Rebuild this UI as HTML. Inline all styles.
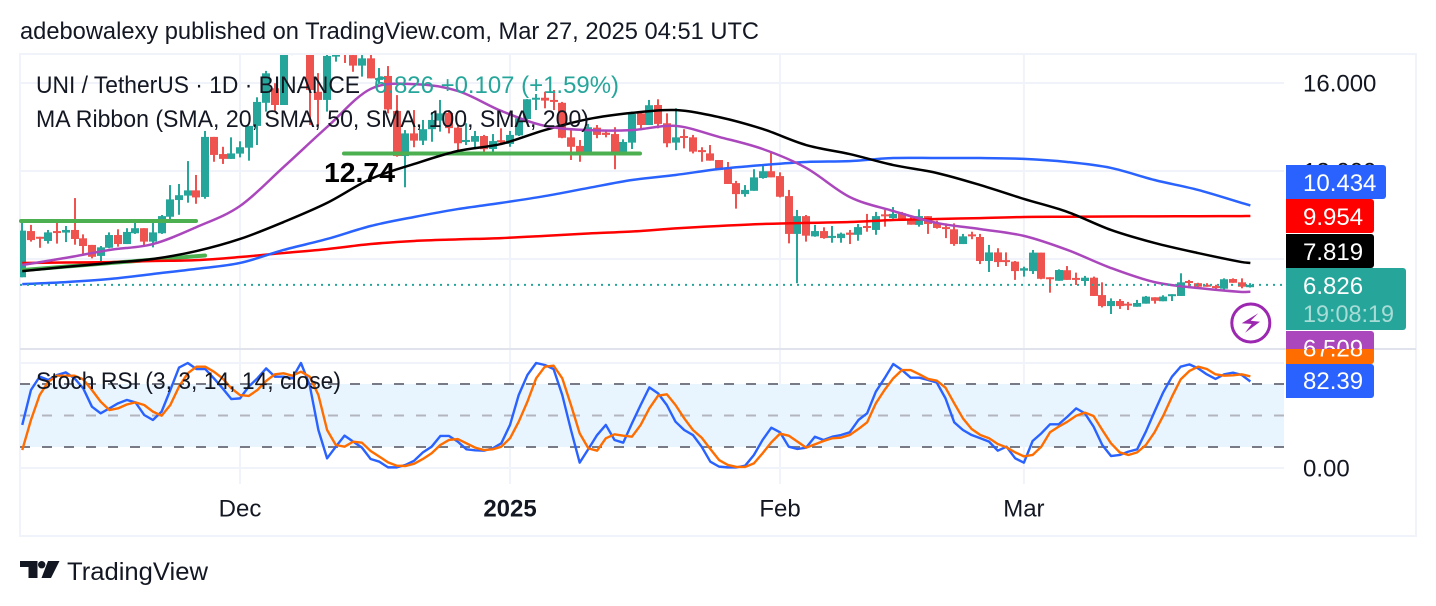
<!DOCTYPE html>
<html lang="en">
<head>
<meta charset="utf-8">
<title>UNI / TetherUS chart</title>
<style>
  html, body { margin: 0; padding: 0; background: #ffffff; width: 1436px; height: 606px; overflow: hidden; }
  svg { display: block; font-family: "Liberation Sans", Arial, sans-serif; }
</style>
</head>
<body>
<svg id="chart" xmlns="http://www.w3.org/2000/svg" width="1436" height="606" viewBox="0 0 1436 606">
  <defs>
    <clipPath id="price-clip"><rect x="20" y="55" width="1264" height="294"></rect></clipPath>
    <clipPath id="stoch-clip"><rect x="20" y="350" width="1264" height="134"></rect></clipPath>
    <clipPath id="label-top-clip"><rect x="1280" y="320" width="120" height="29"></rect></clipPath>
    <clipPath id="label-bottom-clip"><rect x="1280" y="349" width="120" height="30"></rect></clipPath>
  </defs>
  <rect x="0" y="0" width="1436" height="606" fill="#ffffff"></rect>
  <text x="20" y="39" font-size="24" fill="#131722" textLength="739" lengthAdjust="spacingAndGlyphs">adebowalexy published on TradingView.com, Mar 27, 2025 04:51 UTC</text>
  <rect x="20" y="54" width="1396" height="482" fill="none" stroke="#f0f3fa" stroke-width="2"></rect>
  <g id="grid"></g>
  <rect x="20" y="384" width="1264" height="63" fill="#e9f5fe"></rect>
  <g id="stoch-levels"></g>
  <g id="candles" clip-path="url(#price-clip)"></g>
  <line x1="21" y1="221" x2="196" y2="221" stroke="#4caf50" stroke-width="4" stroke-linecap="round"></line>
  <line x1="23" y1="270" x2="205" y2="255.5" stroke="#4caf50" stroke-width="4" stroke-linecap="round"></line>
  <line x1="344" y1="153.5" x2="640" y2="153.5" stroke="#4caf50" stroke-width="4" stroke-linecap="round"></line>
  <g id="ma-lines" clip-path="url(#price-clip)"></g>
  <line id="last-price-line" x1="20" x2="1284" stroke="#26a69a" stroke-width="2" stroke-dasharray="2 5"></line>
  <g id="stoch-lines" clip-path="url(#stoch-clip)"></g>
  <rect x="20" y="348" width="1396" height="2" fill="#e0e3eb"></rect>

  <text x="36" y="93" font-size="24" fill="#131722" textLength="324" lengthAdjust="spacingAndGlyphs">UNI / TetherUS · 1D · BINANCE</text>
  <text x="374" y="93" font-size="24" fill="#26a69a" textLength="245" lengthAdjust="spacingAndGlyphs">6.826 +0.107 (+1.59%)</text>
  <text x="36" y="127" font-size="24" fill="#131722" textLength="553" lengthAdjust="spacingAndGlyphs">MA Ribbon (SMA, 20, SMA, 50, SMA, 100, SMA, 200)</text>
  <text x="36" y="389" font-size="24" fill="#131722" textLength="305" lengthAdjust="spacingAndGlyphs">Stoch RSI (3, 3, 14, 14, close)</text>
  <text x="324" y="182" font-size="28" font-weight="700" fill="#000000" textLength="71" lengthAdjust="spacingAndGlyphs">12.74</text>

  <g>
    <circle cx="1250.8" cy="323" r="19" fill="#ffffff" stroke="#9c27b0" stroke-width="3"></circle>
    <polygon points="1258.3,313.3 1241.7,323.3 1251.7,324 1245,332.7 1260,321.7 1250.7,320.7" fill="#9c27b0"></polygon>
  </g>

  <g id="y-axis"></g>
  <g id="x-axis"></g>

  <g font-size="24">
    <path d="M1286 349h88v12a3 3 0 0 1 -3 3h-85z" fill="#ff6d00"></path>
    <text x="1303" y="356.5" fill="#ffffff" clip-path="url(#label-bottom-clip)">87.28</text>
    <path d="M1286 331h85a3 3 0 0 1 3 3v15h-88z" fill="#ab47bc"></path>
    <text x="1303" y="356.5" fill="#ffffff" clip-path="url(#label-top-clip)">6.509</text>
    <path d="M1286 364h85a3 3 0 0 1 3 3v28a3 3 0 0 1 -3 3h-85z" fill="#2962ff"></path>
    <text x="1303" y="389" fill="#ffffff">82.39</text>
    <path d="M1286 165h97a3 3 0 0 1 3 3v28a3 3 0 0 1 -3 3h-97z" fill="#2962ff"></path>
    <text x="1303" y="191" fill="#ffffff">10.434</text>
    <path d="M1286 199h85a3 3 0 0 1 3 3v28a3 3 0 0 1 -3 3h-85z" fill="#ff0000"></path>
    <text x="1303" y="225" fill="#ffffff">9.954</text>
    <path d="M1286 234h85a3 3 0 0 1 3 3v28a3 3 0 0 1 -3 3h-85z" fill="#000000"></path>
    <text x="1303" y="260" fill="#ffffff">7.819</text>
    <path d="M1286 268h117a3 3 0 0 1 3 3v56a3 3 0 0 1 -3 3h-117z" fill="#26a69a"></path>
    <text x="1303" y="294" fill="#ffffff">6.826</text>
    <text x="1303" y="322" fill="#a8dcd7" textLength="91" lengthAdjust="spacingAndGlyphs">19:08:19</text>
  </g>

  <g>
    <path d="M20 561h17.5v17h-9v-11h-8.500z" fill="#131722"></path>
    <circle cx="41.700" cy="564.700" r="3.700" fill="#131722"></circle>
    <path d="M48 561h11.500l-8.500 17h-9.500z" fill="#131722"></path>
    <text x="67" y="580" font-size="25" fill="#131722" textLength="141" lengthAdjust="spacingAndGlyphs">TradingView</text>
  </g>
</svg>

<script>
const opens = [7.17,9.27,9.01,8.82,9.27,9.20,9.32,8.94,8.64,8.14,8.51,9.09,8.68,9.17,9.40,8.79,9.17,9.92,10.68,10.88,11.12,10.82,13.55,12.77,12.55,12.79,13.06,14.05,15.10,15.76,15.00,17.50,18.20,17.50,15.60,15.23,17.20,17.41,17.27,16.79,17.12,16.14,16.32,14.73,12.68,13.71,13.38,13.90,14.29,14.64,13.97,13.32,13.33,13.59,13.00,13.40,13.23,13.62,14.36,15.26,15.33,15.23,15.10,13.53,13.14,12.88,13.97,13.74,13.68,12.88,13.29,14.62,14.09,15.00,14.17,13.29,13.59,13.53,12.95,12.80,12.50,12.09,11.45,10.95,11.10,11.68,11.99,11.77,10.86,9.14,9.95,9.03,9.27,8.97,8.95,9.20,9.10,9.50,9.32,10.03,9.86,10.08,9.80,9.55,9.95,9.65,9.45,9.35,8.68,9.12,9.00,7.91,8.30,7.95,7.88,7.47,7.45,8.29,7.17,7.01,7.49,7.14,7.00,7.15,6.36,5.86,6.09,5.97,5.83,5.97,6.26,6.08,6.33,6.32,7.00,6.90,6.83,6.77,6.65,7.09,6.94,6.719];
const highs = [9.70,9.55,9.01,9.32,9.64,9.50,10.77,9.12,8.64,8.59,9.21,9.35,9.40,9.65,9.40,9.70,10.00,11.36,11.41,12.45,11.82,13.82,13.55,13.10,13.53,13.35,14.05,15.35,16.55,15.99,17.60,17.90,18.60,17.70,16.45,17.40,17.60,17.60,17.50,17.27,17.32,16.68,16.77,15.45,13.86,14.77,14.32,14.68,15.23,14.77,14.09,14.17,13.82,13.64,13.68,13.94,13.82,14.41,15.27,15.50,15.60,15.68,15.14,13.90,13.41,14.14,14.09,13.86,13.99,13.44,14.70,14.70,15.23,15.26,14.62,14.85,13.90,13.64,13.08,13.18,12.50,12.41,11.55,11.36,12.08,12.27,12.88,11.94,11.14,10.23,10.00,9.55,9.44,9.50,9.20,9.32,9.59,10.05,10.14,10.23,10.36,10.14,9.92,10.26,9.95,9.74,9.62,9.62,9.14,9.24,9.14,8.64,8.49,8.30,7.91,7.65,8.41,8.29,7.17,7.53,7.68,7.38,7.23,7.20,6.94,6.21,6.18,6.05,6.14,6.32,6.26,6.35,6.40,7.35,7.05,6.92,6.90,6.83,7.12,7.12,7.12,6.90];
const lows = [7.17,8.79,8.51,8.70,8.70,8.77,8.65,8.23,8.03,7.90,8.49,8.56,8.68,9.14,8.59,8.53,9.14,9.80,10.01,10.56,10.51,10.74,12.42,12.32,12.55,12.62,12.47,13.18,14.70,14.70,15.00,17.27,17.60,14.09,14.05,14.70,16.97,16.91,16.51,16.29,16.21,16.00,14.62,12.65,11.26,13.08,13.18,13.33,13.79,13.71,12.88,13.18,12.99,12.88,12.80,13.18,13.10,13.59,14.32,14.77,14.85,14.77,13.49,12.50,12.42,12.88,13.49,13.53,12.08,12.88,13.00,13.94,14.09,13.94,13.08,12.95,13.03,12.80,12.42,12.47,12.05,11.41,10.29,10.83,11.10,11.65,11.71,10.80,8.71,6.90,8.79,9.01,8.92,8.74,8.74,8.68,8.83,9.24,9.10,9.47,9.83,9.74,9.56,9.47,9.14,9.38,8.95,8.60,8.68,8.90,7.77,7.41,7.64,7.68,7.05,7.20,7.32,7.08,6.47,7.01,7.05,6.82,6.86,6.32,5.80,5.50,5.73,5.68,5.83,5.97,5.97,6.08,6.09,6.32,6.67,6.70,6.74,6.56,6.56,6.92,6.67,6.70];
const closes = [9.29,8.86,8.92,9.21,9.20,9.32,8.91,8.59,8.10,8.53,9.09,8.68,9.23,9.40,8.79,9.21,9.95,10.71,10.90,11.12,10.80,13.55,12.73,12.55,12.80,13.08,14.05,15.14,16.44,15.00,17.50,17.73,18.40,15.68,15.23,17.23,17.29,17.36,16.79,17.12,16.21,16.23,14.80,12.68,13.71,13.38,13.90,14.32,14.62,13.95,13.26,13.41,13.59,12.99,13.36,13.30,13.64,14.40,15.26,15.33,15.20,15.15,13.51,13.10,12.88,13.99,13.64,13.64,12.88,13.32,14.59,14.09,14.99,14.14,13.26,13.53,13.50,12.88,12.88,12.47,12.05,11.41,10.95,11.14,11.71,11.99,11.71,10.83,9.14,9.95,9.06,9.27,8.95,9.05,9.15,9.10,9.45,9.42,9.95,9.94,10.05,9.74,9.56,9.95,9.59,9.41,9.38,8.68,9.03,9.05,7.91,8.30,7.86,7.86,7.45,7.58,8.29,7.10,7.08,7.50,7.05,7.05,7.15,6.32,5.86,6.09,5.86,5.90,6.00,6.29,6.10,6.29,6.40,6.94,6.92,6.74,6.76,6.70,7.08,6.92,6.74,6.826];

const maBars = [0,5,10,15,20,25,30,35,40,45,50,55,60,65,70,75,80,85,90,95,100,105,110,115,120,125,130,135,140,141];
const sma20 = [7.73,8.05,8.41,8.68,9.45,10.41,12.18,14.00,15.73,15.95,15.64,14.73,14.05,13.86,13.86,14.05,13.55,13.00,12.14,10.82,10.18,9.64,9.36,9.05,8.41,7.59,6.95,6.68,6.50,6.509];
const sma50 = [7.45,7.64,7.82,8.00,8.36,8.91,9.68,10.55,11.64,12.32,12.91,13.23,13.86,14.36,14.64,14.77,14.45,13.91,13.18,12.77,12.27,11.91,11.36,10.73,10.14,9.32,8.73,8.27,7.86,7.819];
const sma100 = [6.86,6.95,7.09,7.32,7.55,7.82,8.41,8.91,9.50,9.91,10.27,10.55,10.86,11.23,11.59,11.82,12.09,12.27,12.41,12.45,12.59,12.59,12.59,12.55,12.41,12.14,11.59,11.14,10.55,10.434];
const sma200 = [7.82,7.84,7.86,7.91,7.95,8.09,8.27,8.45,8.68,8.82,8.89,8.95,9.05,9.16,9.25,9.39,9.50,9.59,9.64,9.68,9.77,9.82,9.86,9.91,9.92,9.93,9.94,9.945,9.95,9.954];

const stochK = [41.0,74.3,87.0,83.8,88.6,91.1,85.4,75.9,58.4,52.1,56.8,61.6,64.8,62.5,50.5,45.7,53.7,74.3,95.6,100,94.3,94.3,85.4,75.9,65.7,66.3,77.5,85.4,94.9,87.0,87.0,85.4,100,79.0,36.2,9.2,20.3,30.8,25.1,19.4,8.6,6.0,0.6,0.6,2.9,7.0,14.9,20.3,30.5,30.5,25.1,17.8,16.8,16.5,18.7,23.5,41.0,69.5,88.6,100,98.1,94.3,69.5,36.2,5.1,18.1,31.4,41.0,26.7,24.1,42.5,60.0,76.8,71.1,60.0,44.1,36.2,31.4,20.3,6.0,1.3,0.6,0.6,2.2,12.4,26.7,38.4,34.0,20.3,18.1,19.4,29.8,26.7,29.8,31.4,34.0,45.7,52.1,72.7,85.4,99.0,93.3,86.0,86.0,83.8,81.3,66.3,43.5,36.2,31.4,28.3,25.1,16.5,20.3,9.2,5.1,25.7,33.0,41.6,41.6,48.9,56.8,52.1,39.4,21.9,11.4,12.4,15.6,17.8,34.6,53.7,72.1,87.0,96.5,98.7,94.9,89.2,84.8,89.2,90.8,88.6,82.39];
const stochD = [17.1,45.7,69.5,82.2,87.9,87.9,87.9,84.4,74.3,63.2,55.2,56.8,60.5,62.5,60.0,53.7,49.8,60.0,77.5,90.2,96.5,96.5,91.7,85.4,75.9,69.5,68.6,74.3,82.9,89.2,90.2,87.9,91.7,87.0,69.5,36.2,21.9,20.3,25.1,24.1,16.2,10.8,5.4,2.2,1.9,4.1,8.6,14.0,21.9,26.7,27.6,23.5,19.4,17.1,17.8,20.3,28.3,44.1,63.2,85.4,96.5,97.5,85.4,60.0,33.0,18.7,16.5,28.3,32.1,30.8,29.8,41.0,56.8,68.9,70.2,60.0,47.3,36.2,28.9,18.1,7.6,2.9,1.0,1.0,4.4,14.0,24.4,32.7,30.8,25.1,19.4,22.5,25.7,28.3,28.9,31.4,37.1,43.5,61.6,74.3,85.4,93.3,93.3,89.2,84.8,83.2,76.5,61.6,47.3,37.1,31.4,28.3,22.9,19.7,14.9,11.1,12.4,20.3,34.0,39.4,44.1,49.8,52.7,49.5,36.2,23.5,14.9,12.4,14.9,21.9,34.0,49.8,67.9,84.4,92.4,96.5,94.3,89.2,87.9,88.3,89.2,87.28];

const lastPrice = 6.826;
const priceTicks = [16, 12, 8];
const priceTickLabels = ['16.000', '12.000', '8.000'];
const stochGridLevels = [100, 0];
const stochBandLevels = [80, 50, 20];
const stochTickValues = [0];
const stochTickLabels = ['0.00'];
const timeTickBars = [25, 56, 87, 115];
const timeTickLabels = ['Dec', '2025', 'Feb', 'Mar'];
const timeTickBold = [false, true, false, false];

const SVG_NS = 'http://www.w3.org/2000/svg';
function xBar(i) { return 22.25 + 8.71 * i; }
function yPrice(p) { return 435 - 22 * p; }
function yStoch(v) { return 468 - 1.05 * v; }
function make(tag, attrs, parent) {
  const node = document.createElementNS(SVG_NS, tag);
  for (const key in attrs) node.setAttribute(key, attrs[key]);
  parent.appendChild(node);
  return node;
}

const gridGroup = document.getElementById('grid');
const priceGridColor = '#f0f3fa';
priceTicks.forEach(function (p) {
  const line = make('line', { x1: 20, x2: 1284, y1: yPrice(p), y2: yPrice(p), stroke: priceGridColor, 'stroke-width': 2 }, gridGroup);
  
  
});
stochGridLevels.forEach(function (v) {
  const line = make('line', { x1: 20, x2: 1284, y1: yStoch(v), y2: yStoch(v), stroke: priceGridColor, 'stroke-width': 2 }, gridGroup);
  
  
});
timeTickBars.forEach(function (b) {
  const line = make('line', { x1: xBar(b), x2: xBar(b), y1: 54, y2: 484, stroke: priceGridColor, 'stroke-width': 2 }, gridGroup);
  
  
});

const levelsGroup = document.getElementById('stoch-levels');
stochBandLevels.forEach(function (v) {
  const line = make('line', { x1: 20, x2: 1284, y1: yStoch(v), y2: yStoch(v), stroke: v === 50 ? '#b2b5be' : '#787b86', 'stroke-width': 2, 'stroke-dasharray': '10 12' }, levelsGroup);
  
  
});

const candleGroup = document.getElementById('candles');
opens.forEach(function (o, i) {
  const c = closes[i];
  const color = c >= o ? '#26a69a' : '#ef5350';
  const cx = Math.round(xBar(i));
  const top = yPrice(Math.max(o, c));
  const bottom = yPrice(Math.min(o, c));
  const g = make('g', {}, candleGroup);
  
  
  const wick = make('rect', { x: cx - 1, width: 2, y: yPrice(highs[i]), height: yPrice(lows[i]) - yPrice(highs[i]), fill: color }, g);
  
  
  const body = make('rect', { x: cx - 4, width: 8, y: top, height: Math.max(bottom - top, 2), fill: color }, g);
  
  
});

function linePoints(bars, values, yFn) {
  return values.map(function (v, k) { return xBar(bars[k]).toFixed(2) + ',' + yFn(v).toFixed(2); }).join(' ');
}
/* Smooth curve through the sampled moving-average readings */
function smoothPath(bars, values, yFn) {
  const pts = values.map(function (v, k) { return [xBar(bars[k]), yFn(v)]; });
  let d = 'M' + pts[0][0].toFixed(2) + ' ' + pts[0][1].toFixed(2);
  for (let k = 0; k < pts.length - 1; k++) {
    const p0 = pts[Math.max(k - 1, 0)];
    const p1 = pts[k];
    const p2 = pts[k + 1];
    const p3 = pts[Math.min(k + 2, pts.length - 1)];
    const span = p2[0] - p1[0];
    const m1 = (p2[1] - p0[1]) / ((p2[0] - p0[0]) || 1);
    const m2 = (p3[1] - p1[1]) / ((p3[0] - p1[0]) || 1);
    d += 'C' + (p1[0] + span / 3).toFixed(2) + ' ' + (p1[1] + m1 * span / 3).toFixed(2) + ' ' +
         (p2[0] - span / 3).toFixed(2) + ' ' + (p2[1] - m2 * span / 3).toFixed(2) + ' ' +
         p2[0].toFixed(2) + ' ' + p2[1].toFixed(2);
  }
  return d;
}

const maGroup = document.getElementById('ma-lines');
const line200 = make('path', { d: smoothPath(maBars, sma200, yPrice), fill: 'none', stroke: '#ff0000', 'stroke-width': 2.5 }, maGroup);


const line100 = make('path', { d: smoothPath(maBars, sma100, yPrice), fill: 'none', stroke: '#2962ff', 'stroke-width': 2.5 }, maGroup);


const line50 = make('path', { d: smoothPath(maBars, sma50, yPrice), fill: 'none', stroke: '#000000', 'stroke-width': 2.5 }, maGroup);


const line20 = make('path', { d: smoothPath(maBars, sma20, yPrice), fill: 'none', stroke: '#ab47bc', 'stroke-width': 2.5 }, maGroup);



const lastLine = document.getElementById('last-price-line');
lastLine.setAttribute('y1', yPrice(lastPrice));
lastLine.setAttribute('y2', yPrice(lastPrice));

const stochBars = stochK.map(function (v, i) { return i; });
const stochGroup = document.getElementById('stoch-lines');
const kLine = make('polyline', { points: linePoints(stochBars, stochK, yStoch), fill: 'none', stroke: '#2962ff', 'stroke-width': 2.4, 'stroke-linejoin': 'round' }, stochGroup);


const dLine = make('polyline', { points: linePoints(stochBars, stochD, yStoch), fill: 'none', stroke: '#ff6d00', 'stroke-width': 2.4, 'stroke-linejoin': 'round' }, stochGroup);



const yAxis = document.getElementById('y-axis');
priceTicks.forEach(function (p, k) {
  const t = make('text', { x: 1303, y: yPrice(p) + 8.5, 'font-size': 24, fill: '#131722' }, yAxis);
  t.textContent = priceTickLabels[k];
  
  
});
stochTickValues.forEach(function (v, k) {
  const t = make('text', { x: 1303, y: yStoch(v) + 8.5, 'font-size': 24, fill: '#131722' }, yAxis);
  t.textContent = stochTickLabels[k];
  
  
});

const xAxis = document.getElementById('x-axis');
timeTickBars.forEach(function (b, k) {
  const t = make('text', { x: xBar(b), y: 516.5, 'font-size': 24, fill: '#131722', 'text-anchor': 'middle', 'font-weight': timeTickBold[k] ? 700 : 400 }, xAxis);
  t.textContent = timeTickLabels[k];
  
  
});
</script>
</body>
</html>
